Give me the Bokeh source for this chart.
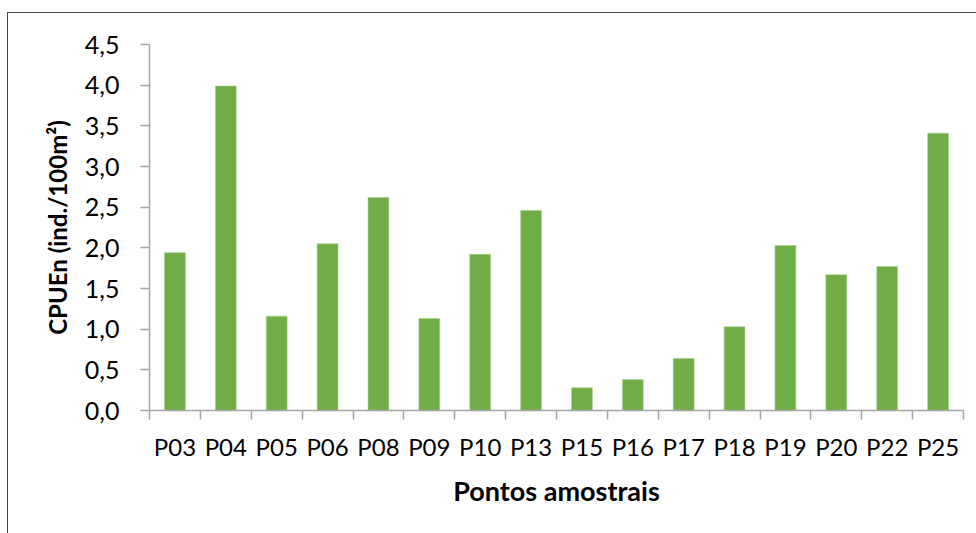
from bokeh.plotting import figure
from bokeh.models import FixedTicker, Range1d, ColumnDataSource
from bokeh.embed import file_html
from bokeh.resources import INLINE

categories = ["P03", "P04", "P05", "P06", "P08", "P09", "P10", "P13",
              "P15", "P16", "P17", "P18", "P19", "P20", "P22", "P25"]
values = [1.94, 3.99, 1.16, 2.05, 2.62, 1.13, 1.92, 2.46,
          0.28, 0.38, 0.64, 1.03, 2.03, 1.67, 1.77, 3.41]
y_ticks = [0.0, 0.5, 1.0, 1.5, 2.0, 2.5, 3.0, 3.5, 4.0, 4.5]
y_title = "CPUEn (ind./100m²)"
x_title = "Pontos amostrais"

n = len(categories)
xpos = [i + 0.5 for i in range(n)]
src = ColumnDataSource(dict(x=xpos, top=values, cat=categories))

p = figure(width=969, height=521, output_backend="svg", toolbar_location=None,
           x_range=Range1d(0, n), y_range=Range1d(0, 4.5),
           min_border_left=141, min_border_top=31, min_border_right=14,
           min_border_bottom=124)
p.margin = (12, 0, 0, 7)
p.styles = {"border-left": "1.5px solid #444", "border-top": "1.5px solid #444"}
p.outline_line_color = None
p.grid.visible = False
p.background_fill_color = "white"
p.border_fill_color = "white"

p.vbar(x="x", top="top", width=0.41, bottom=0, source=src,
       fill_color="#70AD47", line_color="#A9D18E", line_width=0.6)

font = "Lato"
ax = p.xaxis[0]
ax.ticker = FixedTicker(ticks=xpos, minor_ticks=list(range(n + 1)))
ax.major_label_overrides = {x: c for x, c in zip(xpos, categories)}
ax.major_tick_line_color = None
ax.minor_tick_line_color = "#A6A6A6"
ax.minor_tick_out = 9
ax.minor_tick_in = 0
ax.axis_line_color = "#A6A6A6"
ax.axis_line_width = 1.5
ax.minor_tick_line_width = 1.5
ax.major_label_text_font = font
ax.major_label_text_font_size = "24px"
ax.major_label_text_color = "black"
ax.major_label_standoff = 12
ax.axis_label = x_title
ax.axis_label_text_font = font
ax.axis_label_text_font_size = "27px"
ax.axis_label_text_font_style = "bold"
ax.axis_label_text_color = "black"
ax.axis_label_standoff = 10

ay = p.yaxis[0]
ay.ticker = FixedTicker(ticks=y_ticks, minor_ticks=[])
ay.major_label_overrides = {t: f"{t:.1f}".replace(".", ",") for t in y_ticks}
ay.major_tick_line_color = "#A6A6A6"
ay.major_tick_line_width = 1.5
ay.major_tick_out = 9
ay.major_tick_in = 0
ay.axis_line_color = "#A6A6A6"
ay.axis_line_width = 1.5
ay.major_label_text_font = font
ay.major_label_text_font_size = "25px"
ay.major_label_text_color = "black"
ay.major_label_standoff = 21
ay.axis_label = y_title
ay.axis_label_text_font = font
ay.axis_label_text_font_size = "24px"
ay.axis_label_text_font_style = "bold"
ay.axis_label_text_color = "black"
ay.axis_label_standoff = 10

open("out.html", "w").write(file_html(p, INLINE))
